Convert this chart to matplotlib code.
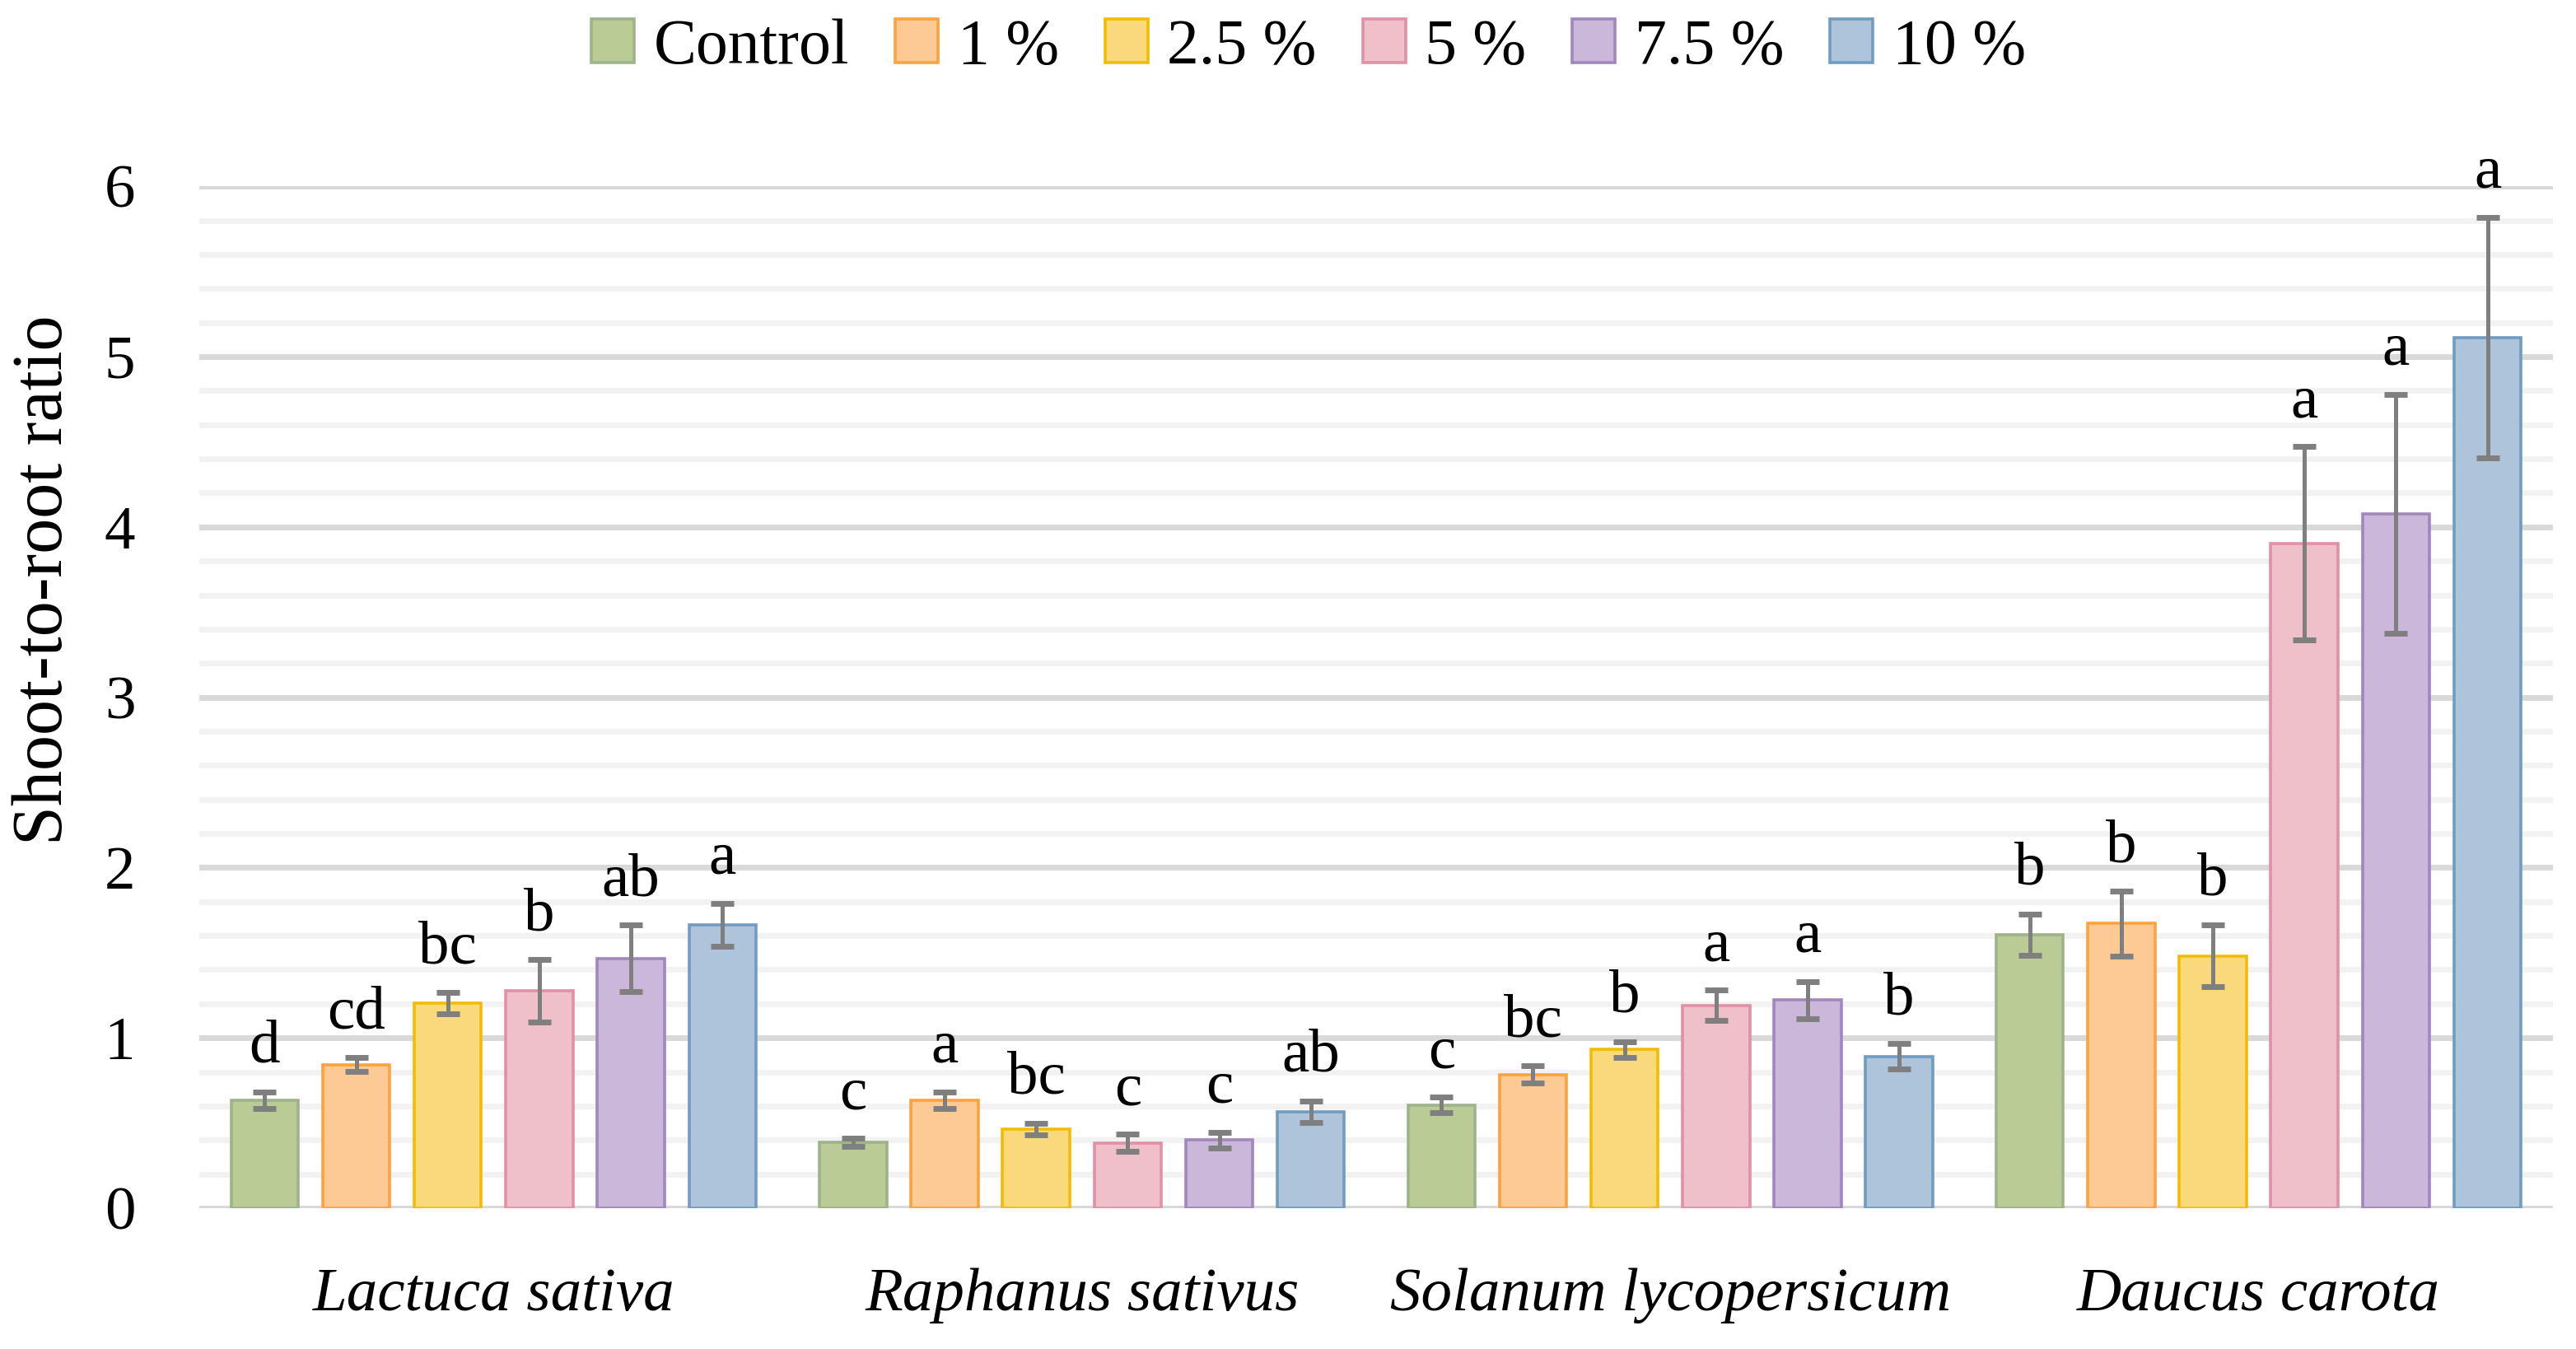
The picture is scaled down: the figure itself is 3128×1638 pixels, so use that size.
import numpy as np
import matplotlib.pyplot as plt
from matplotlib.ticker import MultipleLocator

plt.rcParams['font.family'] = ['Liberation Serif', 'DejaVu Serif']

species = ["Lactuca sativa", "Raphanus sativus", "Solanum lycopersicum", "Daucus carota"]
treatments = ["Control", "1 %", "2.5 %", "5 %", "7.5 %", "10 %"]

# mean shoot-to-root ratio per treatment, one value per species
control = [0.635, 0.387, 0.605, 1.606]
t1 = [0.842, 0.634, 0.785, 1.671]
t2_5 = [1.203, 0.465, 0.932, 1.482]
t5 = [1.276, 0.384, 1.190, 3.903]
t7_5 = [1.466, 0.400, 1.223, 4.078]
t10 = [1.664, 0.565, 0.892, 5.110]

# error bar half-lengths
err_control = [0.049, 0.022, 0.046, 0.121]
err_t1 = [0.041, 0.050, 0.050, 0.190]
err_t2_5 = [0.062, 0.033, 0.045, 0.182]
err_t5 = [0.183, 0.049, 0.089, 0.568]
err_t7_5 = [0.196, 0.047, 0.109, 0.702]
err_t10 = [0.127, 0.064, 0.073, 0.707]

# significance letters
let_control = ["d", "c", "c", "b"]
let_t1 = ["cd", "a", "bc", "b"]
let_t2_5 = ["bc", "bc", "b", "b"]
let_t5 = ["b", "c", "a", "a"]
let_t7_5 = ["ab", "c", "a", "a"]
let_t10 = ["a", "ab", "b", "a"]

means = [control, t1, t2_5, t5, t7_5, t10]
errs = [err_control, err_t1, err_t2_5, err_t5, err_t7_5, err_t10]
letters = [let_control, let_t1, let_t2_5, let_t5, let_t7_5, let_t10]

fills = ["#BBCB96", "#FDC994", "#FAD87C", "#EFBFCA", "#CBB7DA", "#AEC4DA"]
edges = ["#9DB48A", "#FCA23E", "#F2BC00", "#E091A6", "#A286BE", "#709CC2"]

fig = plt.figure(figsize=(15.64, 8.19), dpi=200)
ax = fig.add_axes([0.0774, 0.1044, 0.9136, 0.7575])

x = np.arange(len(species))
pitch = 0.1556
width = 0.114

handles = []
for i, name in enumerate(treatments):
    xs = x + (i - 2.5) * pitch
    bars = ax.bar(xs, means[i], width, color=fills[i], edgecolor=edges[i],
                  linewidth=1.3, label=name, zorder=2)
    handles.append(bars)
    ax.errorbar(xs, means[i], yerr=errs[i], fmt="none", ecolor="#7F7F7F",
                elinewidth=1.8, capsize=5.2, capthick=2.5, zorder=3)
    for xi, m, e, lab in zip(xs, means[i], errs[i], letters[i]):
        ax.annotate(lab, (xi, m + e), xytext=(0, 13), textcoords="offset points",
                    ha="center", va="baseline", fontsize=27, annotation_clip=False)

ax.set_xlim(-0.5, 3.5)
ax.set_ylim(0, 6)
ax.yaxis.set_major_locator(MultipleLocator(1))
ax.yaxis.set_minor_locator(MultipleLocator(0.2))
ax.grid(True, axis="y", which="minor", color="#F2F2F2", linewidth=2.5)
ax.grid(True, axis="y", which="major", color="#D9D9D9", linewidth=2.5)
ax.set_axisbelow(True)
for s in ax.spines.values():
    s.set_visible(False)

ax.set_xticks(x)
ax.set_xticklabels(species, fontstyle="italic", fontsize=27)
ax.tick_params(axis="x", length=0, pad=26)
ax.tick_params(axis="y", which="both", length=0, pad=28, labelsize=27)

fig.text(0.0173, 0.570, "Shoot-to-root ratio", rotation=90, ha="center",
         va="center", fontsize=31)

fig.legend(handles, treatments, loc="center", bbox_to_anchor=(0.508, 0.9646),
           ncol=6, frameon=False, fontsize=28, handlelength=0.67,
           handleheight=0.67, handletextpad=0.3, columnspacing=0.72)

fig.savefig("out.png", dpi=200)
